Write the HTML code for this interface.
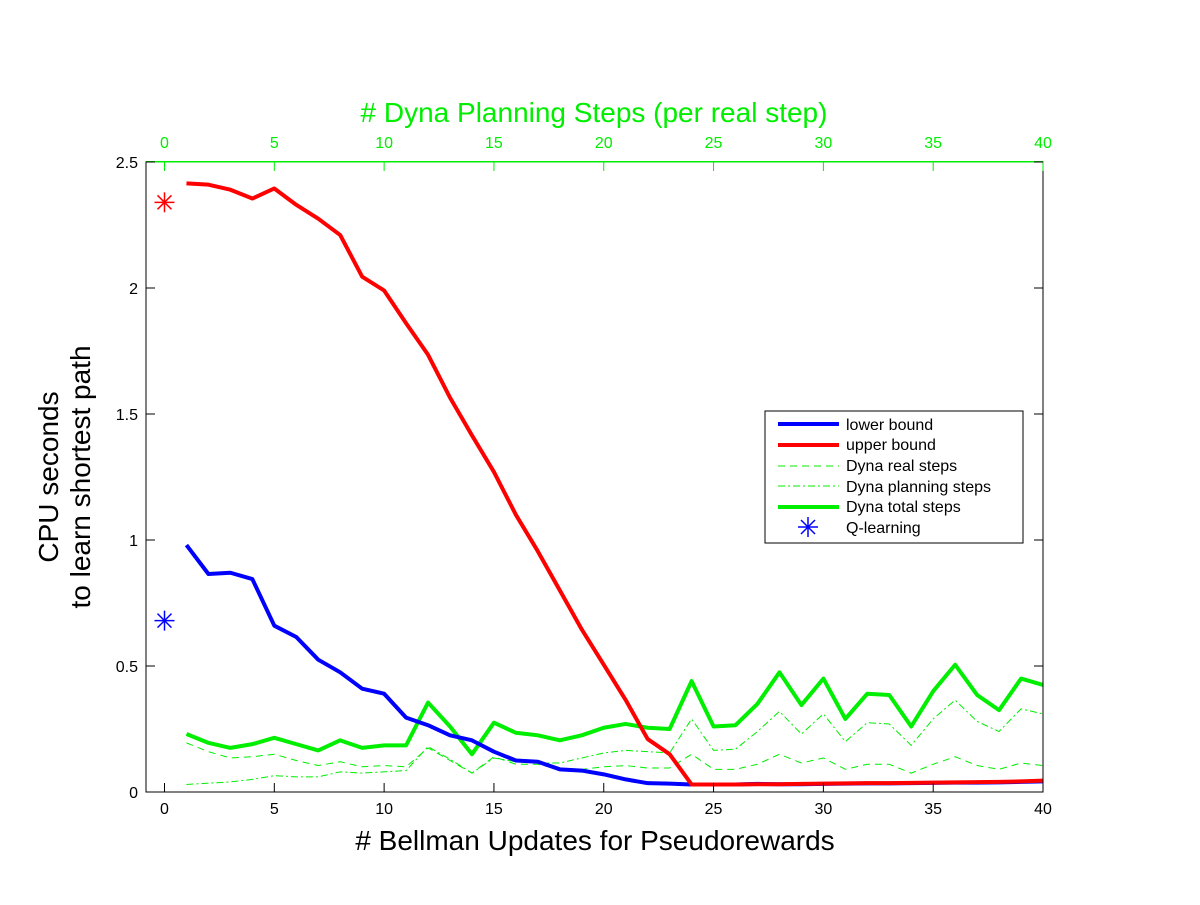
<!DOCTYPE html>
<html><head><meta charset="utf-8"><style>
body{margin:0;background:#fff;}
svg text{font-family:"Liberation Sans",sans-serif;}
</style></head><body>
<svg id="chart" width="1200" height="900" xmlns="http://www.w3.org/2000/svg">
<rect x="0" y="0" width="1200" height="900" fill="#fff"/>
<g id="marks"></g>
<rect x="146" y="162" width="897" height="630" fill="none" stroke="#000" stroke-width="1"/>
<rect x="146" y="161" width="897" height="1.5" fill="#00ee00"/>
<g id="axes"></g>
<text x="595" y="850" font-size="28" text-anchor="middle">#  Bellman Updates for Pseudorewards</text>
<text x="594" y="122" font-size="28" text-anchor="middle" fill="#00ee00">#  Dyna Planning Steps (per real step)</text>
<text transform="translate(58,477) rotate(-90)" font-size="28" text-anchor="middle"><tspan x="0" dy="0">CPU seconds</tspan><tspan x="0" dy="32">to learn shortest path</tspan></text>
<g>
<rect x="765" y="411" width="258" height="132" fill="#fff" stroke="#000" stroke-width="1"/>
<line x1="778" y1="424" x2="839" y2="424" stroke="#0000ff" stroke-width="4"/>
<text x="846" y="430" font-size="16">lower bound</text>
<line x1="778" y1="445" x2="839" y2="445" stroke="#ff0000" stroke-width="4"/>
<text x="846" y="450" font-size="16">upper bound</text>
<line x1="778" y1="466" x2="839" y2="466" stroke="#00ee00" stroke-width="1" stroke-dasharray="7,5"/>
<text x="846" y="471" font-size="16">Dyna real steps</text>
<line x1="778" y1="486" x2="839" y2="486" stroke="#00ee00" stroke-width="1" stroke-dasharray="7,3,2,3"/>
<text x="846" y="492" font-size="16">Dyna planning steps</text>
<line x1="778" y1="507" x2="839" y2="507" stroke="#00ee00" stroke-width="4"/>
<text x="846" y="512" font-size="16">Dyna total steps</text>
<g stroke="#0000ff" stroke-width="1.5">
<line x1="808" y1="517" x2="808" y2="537"/><line x1="798" y1="527" x2="818" y2="527"/><line x1="801" y1="520" x2="815" y2="534"/><line x1="815" y1="520" x2="801" y2="534"/></g>
<text x="846" y="533" font-size="16">Q-learning</text>
</g>
</svg>
<script>
const xs = [1,2,3,4,5,6,7,8,9,10,11,12,13,14,15,16,17,18,19,20,21,22,23,24,25,26,27,28,29,30,31,32,33,34,35,36,37,38,39,40];
const lowerBound = [0.98,0.865,0.87,0.845,0.66,0.615,0.525,0.475,0.41,0.39,0.295,0.265,0.225,0.205,0.16,0.125,0.12,0.09,0.085,0.07,0.05,0.035,0.033,0.03,0.03,0.03,0.032,0.031,0.031,0.032,0.033,0.034,0.034,0.035,0.036,0.037,0.037,0.038,0.04,0.042];
const upperBound = [2.415,2.41,2.39,2.355,2.395,2.33,2.275,2.21,2.045,1.99,1.86,1.735,1.565,1.415,1.27,1.1,0.955,0.8,0.645,0.505,0.365,0.21,0.15,0.03,0.03,0.03,0.031,0.031,0.032,0.033,0.034,0.035,0.035,0.036,0.037,0.038,0.039,0.04,0.042,0.045];
const realSteps = [0.195,0.16,0.135,0.14,0.15,0.125,0.105,0.12,0.1,0.105,0.1,0.175,0.125,0.075,0.14,0.11,0.11,0.09,0.09,0.1,0.105,0.095,0.095,0.15,0.09,0.09,0.11,0.15,0.115,0.135,0.09,0.11,0.11,0.075,0.11,0.14,0.105,0.09,0.115,0.105];
const planningSteps = [0.03,0.035,0.04,0.05,0.065,0.06,0.06,0.08,0.075,0.08,0.085,0.18,0.13,0.075,0.135,0.12,0.115,0.115,0.135,0.155,0.165,0.16,0.155,0.29,0.165,0.17,0.24,0.32,0.23,0.31,0.2,0.275,0.27,0.185,0.29,0.365,0.28,0.24,0.33,0.31];
const totalSteps = [0.23,0.195,0.175,0.19,0.215,0.19,0.165,0.205,0.175,0.185,0.185,0.355,0.26,0.15,0.275,0.235,0.225,0.205,0.225,0.255,0.27,0.255,0.25,0.44,0.26,0.265,0.35,0.475,0.345,0.45,0.29,0.39,0.385,0.26,0.4,0.505,0.385,0.325,0.45,0.425];
const qLearningX = [0,0];
const qLearningY = [2.34,0.68];
const xTicks = [0,5,10,15,20,25,30,35,40];
const yTicks = [0,0.5,1,1.5,2,2.5];
const yTickLabels = ["0","0.5","1","1.5","2","2.5"];

const NS = "http://www.w3.org/2000/svg";
function sx(v){return 164.5 + v*(1043-164.5)/40;}
function sy(v){return 792 - v*(792-162)/2.5;}
const marks = document.getElementById('marks');
const axes = document.getElementById('axes');
function mk(tag, attrs, parent){const e=document.createElementNS(NS,tag);for(const k in attrs)e.setAttribute(k,attrs[k]);parent.appendChild(e);return e;}
function series(ys, color, width, dash, name){
  const p = mk('polyline',{points: xs.map((x,i)=>sx(x)+','+sy(ys[i])).join(' '), fill:'none', stroke:color, 'stroke-width':width, 'stroke-linejoin':'round'}, marks);
  if(dash) p.setAttribute('stroke-dasharray', dash);
  
  
}
series(realSteps,'#00ee00',1,'7,5','line-dyna-real-steps');
series(planningSteps,'#00ee00',1,'7,3,2,3','line-dyna-planning-steps');
series(totalSteps,'#00ee00',4,null,'line-dyna-total-steps');
series(lowerBound,'#0000ff',4,null,'line-lower-bound');
series(upperBound,'#ff0000',4,null,'line-upper-bound');
const starColors = ['#ff0000','#0000ff'];
qLearningX.forEach((x,i)=>{
  const g = mk('g',{stroke:starColors[i],'stroke-width':1.5}, marks);
  
  
  const cx=sx(x), cy=sy(qLearningY[i]), r=10, d=7;
  mk('line',{x1:cx,y1:cy-r,x2:cx,y2:cy+r},g);
  mk('line',{x1:cx-r,y1:cy,x2:cx+r,y2:cy},g);
  mk('line',{x1:cx-d,y1:cy-d,x2:cx+d,y2:cy+d},g);
  mk('line',{x1:cx+d,y1:cy-d,x2:cx-d,y2:cy+d},g);
});
xTicks.forEach(t=>{
  const x=sx(t);
  const b = mk('line',{x1:x,y1:792,x2:x,y2:783,stroke:'#000','stroke-width':1},axes);
  
  
  const bl = mk('text',{x:x,y:814,'font-size':16,'text-anchor':'middle'},axes);
  bl.textContent = String(t);
  
  
  const tp = mk('line',{x1:x,y1:162,x2:x,y2:171,stroke:'#00ee00','stroke-width':1},axes);
  
  
  const tl = mk('text',{x:x,y:148,'font-size':16,'text-anchor':'middle',fill:'#00ee00'},axes);
  tl.textContent = String(t);
  
  
});
yTicks.forEach((t,i)=>{
  const y=sy(t);
  const l = mk('line',{x1:146,y1:y,x2:155,y2:y,stroke:'#000','stroke-width':1},axes);
  
  
  const r = mk('line',{x1:1043,y1:y,x2:1034,y2:y,stroke:'#000','stroke-width':1},axes);
  
  
  const tx = mk('text',{x:138,y:y+6,'font-size':16,'text-anchor':'end'},axes);
  tx.textContent = yTickLabels[i];
  
  
});
</script>
</body></html>
